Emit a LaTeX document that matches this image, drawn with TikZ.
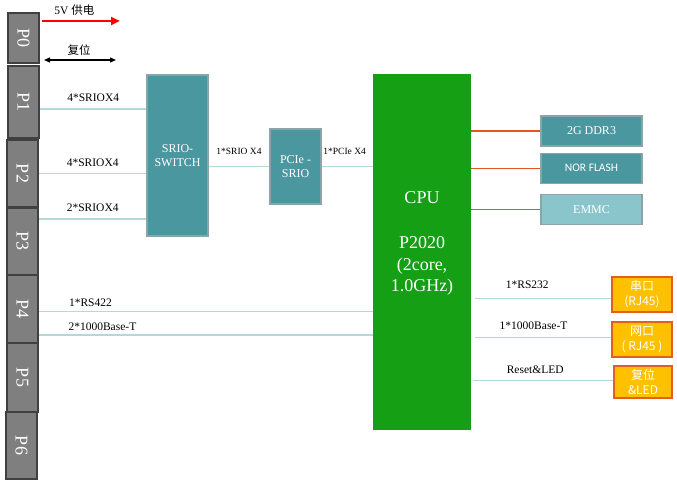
\documentclass[tikz,border=0pt]{standalone}
\usepackage{graphicx}
\usepackage{fontspec}
\setmainfont{Liberation Serif}
\newfontfamily\cjk{Noto Sans CJK SC}
\newfontfamily\calib{Carlito}
\usetikzlibrary{arrows.meta,positioning}
\definecolor{portgray}{HTML}{7F7F7F}
\definecolor{portedge}{HTML}{404040}
\definecolor{tealbox}{HTML}{4A979F}
\definecolor{tealedge}{HTML}{8CA4A9}
\definecolor{emmcfill}{HTML}{8AC5CC}
\definecolor{cpugreen}{HTML}{149F14}
\definecolor{busblue}{HTML}{B2D7DC}
\definecolor{memline}{HTML}{E0561F}
\definecolor{plugfill}{HTML}{FFC000}
\definecolor{plugedge}{HTML}{E35F1A}

\begin{document}
\begin{tikzpicture}
[x=1pt,y=-1pt,
port/.style ={rectangle, draw=portedge, line width=2pt, fill=portgray,
text=white, minimum width=31pt, inner sep=0pt,
font=\fontsize{18}{18}\selectfont},
chip/.style ={rectangle, draw=tealedge, line width=1.2pt, fill=tealbox,
text=white, align=center, inner sep=0pt,
font=\fontsize{12}{14.6}\selectfont},
cpubox/.style ={rectangle, fill=cpugreen, minimum width=98pt,
minimum height=356pt},
cputxt/.style ={text=white, align=center, inner sep=0pt,
font=\fontsize{18}{21.5}\selectfont},
plug/.style ={rectangle, draw=plugedge, line width=1.2pt, fill=plugfill,
text=white, align=center, inner sep=0pt, minimum height=35pt,
minimum width=60pt, font=\cjk\fontsize{12}{15}\selectfont},
bus/.style ={draw=busblue, line width=1.2pt},
mem/.style ={draw=memline, line width=1.1pt},
lbl/.style ={font=\fontsize{11.5}{12}\selectfont, inner sep=0pt, text=black},
tiny/.style ={font=\fontsize{9.5}{10}\selectfont, inner sep=0pt}]
\useasboundingbox (0,0) rectangle (677,484);
% connector ports on the left
\node [port, minimum height=50pt] (P0) at (23.5,38) {\rotatebox{-90}{P0}};
\node [port, minimum height=72pt] (P1) at (23.5,102) {\rotatebox{-90}{P1}};
\node [port, minimum height=67pt] (P2) at (22.5,173.5) {\rotatebox{-90}{P2}};
\node [port, minimum height=67pt] (P3) at (22.5,241) {\rotatebox{-90}{P3}};
\node [port, minimum height=68pt] (P4) at (22.5,309) {\rotatebox{-90}{P4}};
\node [port, minimum height=69pt] (P5) at (22.5,377.5) {\rotatebox{-90}{P5}};
\node [port, minimum height=67pt] (P6) at (21.5,445.5) {\rotatebox{-90}{P6}};
% switch, bridge and cpu
\node [chip, minimum width=61pt, minimum height=161pt] (sw) at (177.5,155.5) {SRIO-\\SWITCH};
\node [chip, minimum width=51pt, minimum height=75pt] (pcie) at (295.5,166.5) {PCIe -\\SRIO};
\node [cpubox] (cpu) at (422,252) {};
\node [cputxt] (cpulbl) at ([yshift=8.5pt]cpu.center) {CPU\\[23.5pt]P2020\\(2core,\\1.0GHz)};
% memories
\node [chip, minimum width=101pt, minimum height=30pt] (ddr) at (591.5,131) {2G DDR3};
\node [chip, minimum width=101pt, minimum height=30pt, below=6pt of ddr,
font=\calib\fontsize{11.5}{12}\selectfont] (nor) {NOR FLASH};
\node [chip, minimum width=101pt, minimum height=30pt, below=10pt of nor,
fill=emmcfill] (emmc) {EMMC};
% front panel
\node [plug] (ser) at (642,294.5) {串口\\(RJ45)};
\node [plug] (net) at (642,339.5) {网口\\( RJ45 )};
\node [plug, minimum width=58pt, minimum height=32pt] (rst) at (643,382) {复位\\\&LED};
% power and reset
\coordinate (pwrend) at (120,21);
\coordinate (rstend) at (116,60);
\draw [red, line width=2.7pt, -{Triangle[length=9pt,width=8pt]}, shorten <=2pt]
(P0.east |- pwrend) -- node [pos=.43, above=4pt, lbl] {5V {\cjk 供电}} (pwrend);
\draw [black, line width=1.3pt, {Triangle[length=6pt,width=5pt]}-{Triangle[length=6pt,width=5pt]}, shorten <=4pt]
(P0.east |- rstend) -- node [pos=.515, above=4pt, lbl] {\cjk 复位} (rstend);
\path ([yshift=-7pt]P1.east) coordinate (p1o)
(P2.east) coordinate (p2o)
([yshift=22pt]P3.east) coordinate (p3o)
([yshift=-2.5pt]P4.east) coordinate (p4a)
([yshift=-26pt]P4.east) coordinate (p4b)
([yshift=-4pt]ser.west) coordinate (serin)
([yshift=2pt]net.west) coordinate (netin)
([yshift=1.5pt]rst.west) coordinate (rstin);
\begin{scope}[every path/.style=bus]
\path (p1o) -- node [above=7pt, lbl] {4*SRIOX4} (p1o -| sw.west);
\path (p2o) -- node [above=6pt, lbl] {4*SRIOX4} (p2o -| sw.west);
\path (p3o) -- node [above=7pt, lbl] {2*SRIOX4} (p3o -| sw.west);
\path (p4a) -- node [pos=.154, above=4.3pt, lbl] {1*RS422} (p4a -| cpu.west);
\path (p4b) -- node [pos=.19, above=3.3pt, lbl] {2*1000Base-T} (p4b -| cpu.west);
\path (sw.east |- pcie) -- node [above=11.5pt, tiny] {1*SRIO X4} (pcie.west);
\path (pcie.east) -- node [pos=.45, above=11.5pt, tiny] {1*PCIe X4} (pcie.east -| cpu.west);
\path [shorten <=4pt] (cpu.east |- serin) -- node [pos=.40, above=9pt, lbl] {1*RS232} (serin);
\path [shorten <=4pt] (cpu.east |- netin) -- node [pos=.445, above=7.3pt, lbl] {1*1000Base-T} (netin);
\path [shorten <=2pt] (cpu.east |- rstin) -- node [pos=.45, above=6.3pt, lbl] {Reset\&LED} (rstin);
\end{scope}
\begin{scope}[every path/.style=mem]
\path (cpu.east |- ddr) -- (ddr.west);
\path (cpu.east |- nor) -- (nor.west);
\path (cpu.east |- emmc) -- (emmc.west);
\end{scope}
\end{tikzpicture}
\end{document}
